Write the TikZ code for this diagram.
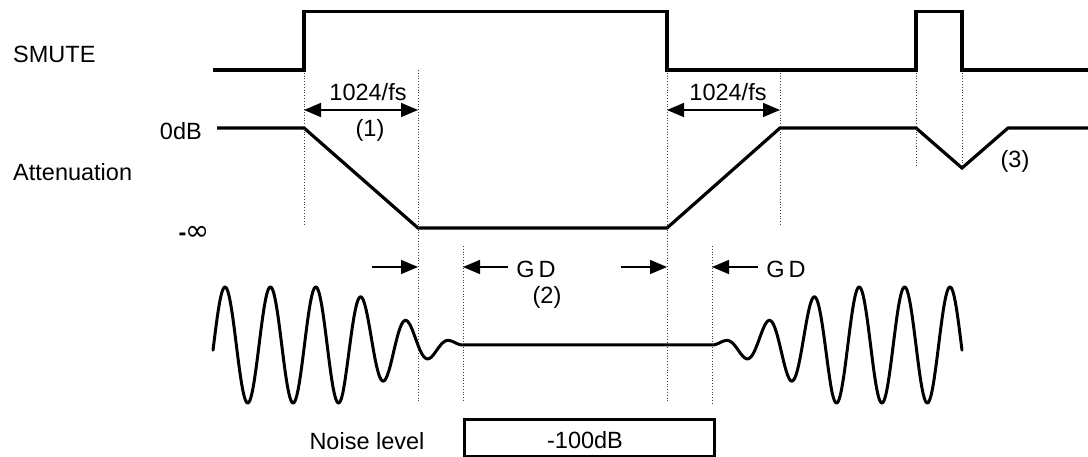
\documentclass[tikz,border=0pt]{standalone}
\usepackage{fontspec}
\setmainfont{Liberation Sans}
\newfontfamily\symfont{DejaVu Sans}
\usetikzlibrary{arrows.meta}
\begin{document}
\begin{tikzpicture}[x=1pt,y=-1pt,
  sig/.style={line width=3.2pt, line join=miter},
  guide/.style={dotted, line width=0.8pt, black!75},
  lbl/.style={font=\fontsize{23.5}{26}\selectfont, inner sep=0pt},
  dimarrow/.style={line width=1.6pt, {Triangle[length=17pt,width=14pt]}-{Triangle[length=17pt,width=14pt]}},
  ptr/.style={line width=1.6pt, -{Triangle[length=17pt,width=14pt]}},
  wave/.style={line width=3pt, line join=round, line cap=round}]
\useasboundingbox (0,0) rectangle (1088,457);
% SMUTE signal
\coordinate (s0) at (213,70);
\coordinate (s1) at (304,70);
\coordinate (s2) at (304,11.5);
\coordinate (s3) at (667,11.5);
\coordinate (s4) at (667,70);
\coordinate (s5) at (916,70);
\coordinate (s6) at (916,11.5);
\coordinate (s7) at (962,11.5);
\coordinate (s8) at (962,70);
\coordinate (s9) at (1088,70);
\draw[sig] (s0) -- (s1) -- (s2) -- (s3) -- (s4) -- (s5) -- (s6) -- (s7) -- (s8) -- (s9);
% Attenuation
\coordinate (a0) at (217,128);
\coordinate (a1) at (304,128);
\coordinate (a2) at (418,228);
\coordinate (a3) at (667,228);
\coordinate (a4) at (780,128);
\coordinate (a5) at (916,128);
\coordinate (a6) at (962,168);
\coordinate (a7) at (1008,128);
\coordinate (a8) at (1088,128);
\draw[sig] (a0) -- (a1) -- (a2) -- (a3) -- (a4) -- (a5) -- (a6) -- (a7) -- (a8);
% guides
\coordinate (g1b) at (304,225);
\coordinate (g2t) at (418,70);
\coordinate (g2b) at (418,403);
\coordinate (g3t) at (463,246);
\coordinate (g3b) at (463,401);
\coordinate (g4b) at (667,403);
\coordinate (g5t) at (712,246);
\coordinate (g5b) at (712,403);
\coordinate (g6t) at (780,70);
\coordinate (g6b) at (780,225);
\coordinate (g7b) at (916,168);
\coordinate (g8b) at (962,168);
\draw[guide] (s1) -- (g1b);
\draw[guide] (g2t) -- (g2b);
\draw[guide] (g3t) -- (g3b);
\draw[guide] (s4) -- (g4b);
\draw[guide] (g5t) -- (g5b);
\draw[guide] (g6t) -- (g6b);
\draw[guide] (s5) -- (g7b);
\draw[guide] (s8) -- (g8b);
% 1024/fs arrows
\coordinate (d1a) at (304,110);
\coordinate (d1b) at (418,110);
\coordinate (d2a) at (667,110);
\coordinate (d2b) at (780,110);
\draw[dimarrow] (d1a) -- (d1b);
\draw[dimarrow] (d2a) -- (d2b);
% GD arrows
\coordinate (p1s) at (372,267);
\coordinate (p1e) at (418,267);
\coordinate (p2s) at (508,267);
\coordinate (p2e) at (463,267);
\coordinate (p3s) at (621,267);
\coordinate (p3e) at (667,267);
\coordinate (p4s) at (758,267);
\coordinate (p4e) at (712,267);
\draw[ptr] (p1s) -- (p1e);
\draw[ptr] (p2s) -- (p2e);
\draw[ptr] (p3s) -- (p3e);
\draw[ptr] (p4s) -- (p4e);
% waveform
\coordinate (w1) at (463,345);
\coordinate (w2) at (712,345);
\draw[wave] plot[domain=213:463, samples=300] (\x, {345 - 58*min(1,(463-\x)/120)^1.15*sin(7.9295*(\x-213.65))})
  -- (w1) -- (w2) --
  plot[domain=712:962, samples=300] (\x, {345 - 58*min(1,(\x-712)/120)^1.15*sin(7.9295*(961.35-\x))});
% noise box
\node[draw, line width=3pt, minimum width=250pt, minimum height=37pt, inner sep=0pt, anchor=north west] (box) at (463,418) {};
\node[lbl] (nl) at (585,440) {-100dB};
\node[lbl] (noise) at (367,441) {Noise level};
% labels
\node[lbl, anchor=west] (smute) at (13,54.5) {SMUTE};
\node[lbl, anchor=east] (zdb) at (202,131) {0dB};
\node[lbl, anchor=west] (att) at (13,172) {Attenuation};
\node[lbl] (minf) at (194,233) {\textbf{-}\kern-1pt{\symfont\fontsize{29}{30}\selectfont ∞}};
\node[lbl] (t1) at (368,92) {1024/fs};
\node[lbl] (n1) at (370,130) {(1)};
\node[lbl] (t2) at (728,92) {1024/fs};
\node[lbl] (n3) at (1015,161) {(3)};
\node[lbl] (gd1) at (536,269) {G\,D};
\node[lbl] (n2) at (547,297) {(2)};
\node[lbl] (gd2) at (786,269) {G\,D};
\end{tikzpicture}
\end{document}
